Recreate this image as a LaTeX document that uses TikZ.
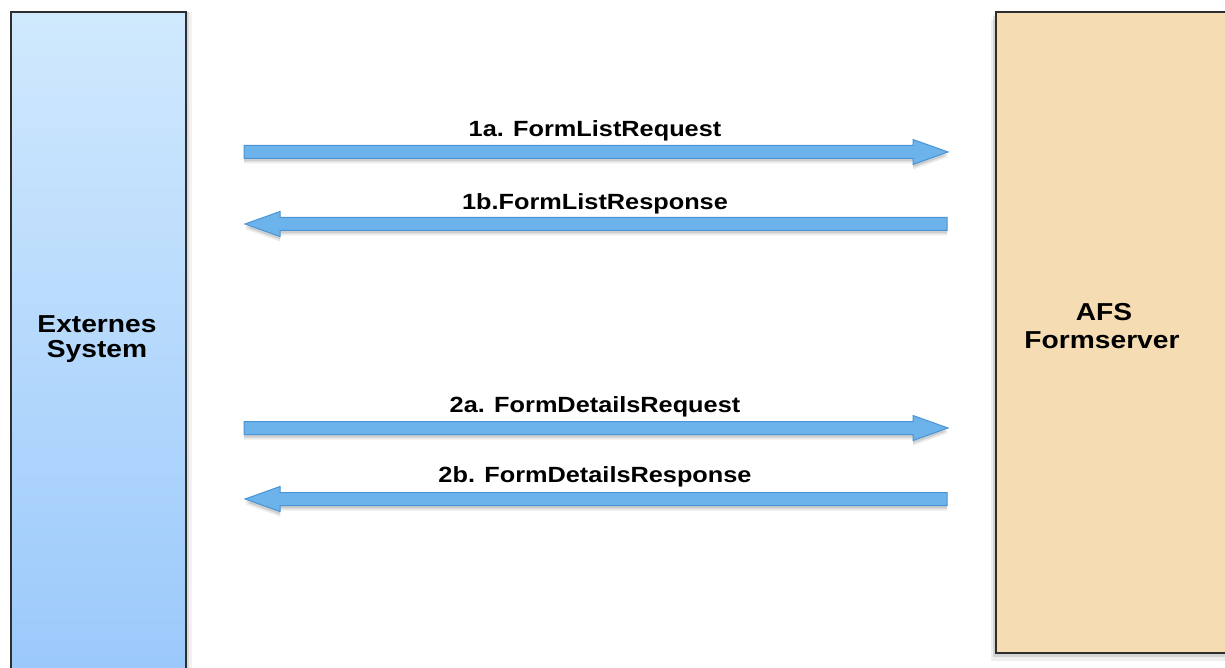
\documentclass[tikz,border=0pt]{standalone}
\usepackage{fontspec}
\setmainfont{Liberation Sans}[FakeStretch=1.15]
\usetikzlibrary{calc,shadows}
\definecolor{arrfill}{HTML}{6CB3EB}
\definecolor{arrline}{HTML}{4A94D4}
\definecolor{boxline}{HTML}{2E2E2E}
\definecolor{leftTop}{HTML}{D0E9FD}
\definecolor{leftBot}{HTML}{98C7FB}
\definecolor{rightFill}{HTML}{F5DCB2}
\tikzset{
 sysbox/.style={draw=boxline, line width=2pt, inner sep=0pt, anchor=north west},
 msg/.style={font=\fontsize{22}{26}\selectfont\bfseries, anchor=base, inner sep=0pt},
 boxlabel/.style={font=\fontsize{24.5}{28}\selectfont\bfseries, anchor=base, inner sep=0pt},
 flow/.style={fill=arrfill, draw=arrline, line width=1pt, line join=miter,
   drop shadow={shadow xshift=0pt, shadow yshift=-5pt, opacity=0.08, fill=black},
   drop shadow={shadow xshift=0pt, shadow yshift=-3pt, opacity=0.12, fill=black}},
}
\newcommand\flowarrow[3]{%
 \draw[flow] ($(#1)+(0,-6.5)$) -- ($(#2)+(-35*#3,-6.5)$) -- ($(#2)+(-35*#3,-12.5)$) -- (#2)
   -- ($(#2)+(-35*#3,12.5)$) -- ($(#2)+(-35*#3,6.5)$) -- ($(#1)+(0,6.5)$) -- cycle;}
\begin{document}
\begin{tikzpicture}[x=1pt,y=-1pt]
\useasboundingbox (0,0) rectangle (1225,668);
\clip (0,0) rectangle (1225,668);
\fill[white] (0,0) rectangle (1225,668);
% system boxes
\node[sysbox, minimum width=175pt, minimum height=700pt, top color=leftTop, bottom color=leftBot,
  drop shadow={shadow xshift=6pt, shadow yshift=0pt, opacity=.1},
  drop shadow={shadow xshift=3pt, shadow yshift=0pt, opacity=.2}] (ext) at (10,11) {};
\node[sysbox, minimum width=250pt, minimum height=641pt, fill=rightFill,
  drop shadow={shadow xshift=-5pt, shadow yshift=-8pt, opacity=.12},
  drop shadow={shadow xshift=-3pt, shadow yshift=-4pt, opacity=.25}] (afs) at (995,11) {};
\node[boxlabel] (ext1) at (97,332) {Externes};
\node[boxlabel] (ext2) at (97,357) {System};
\node[boxlabel] (afs1) at (1104,320) {AFS};
\node[boxlabel] (afs2) at (1102,348) {Formserver};
% arrow end points
\coordinate (a1s) at (244,152); \coordinate (a1e) at (948,152);
\coordinate (b1s) at (947,224); \coordinate (b1e) at (245,224);
\coordinate (a2s) at (244,428); \coordinate (a2e) at (948,428);
\coordinate (b2s) at (947,499); \coordinate (b2e) at (245,499);
\flowarrow{a1s}{a1e}{1}
\flowarrow{b1s}{b1e}{-1}
\flowarrow{a2s}{a2e}{1}
\flowarrow{b2s}{b2e}{-1}
% labels
\node[msg] (l1a) at (595,137) {1a. FormListRequest};
\node[msg] (l1b) at (595,210) {1b.FormListResponse};
\node[msg] (l2a) at (595,412) {2a. FormDetailsRequest};
\node[msg] (l2b) at (595,482) {2b. FormDetailsResponse};
\end{tikzpicture}
\end{document}
